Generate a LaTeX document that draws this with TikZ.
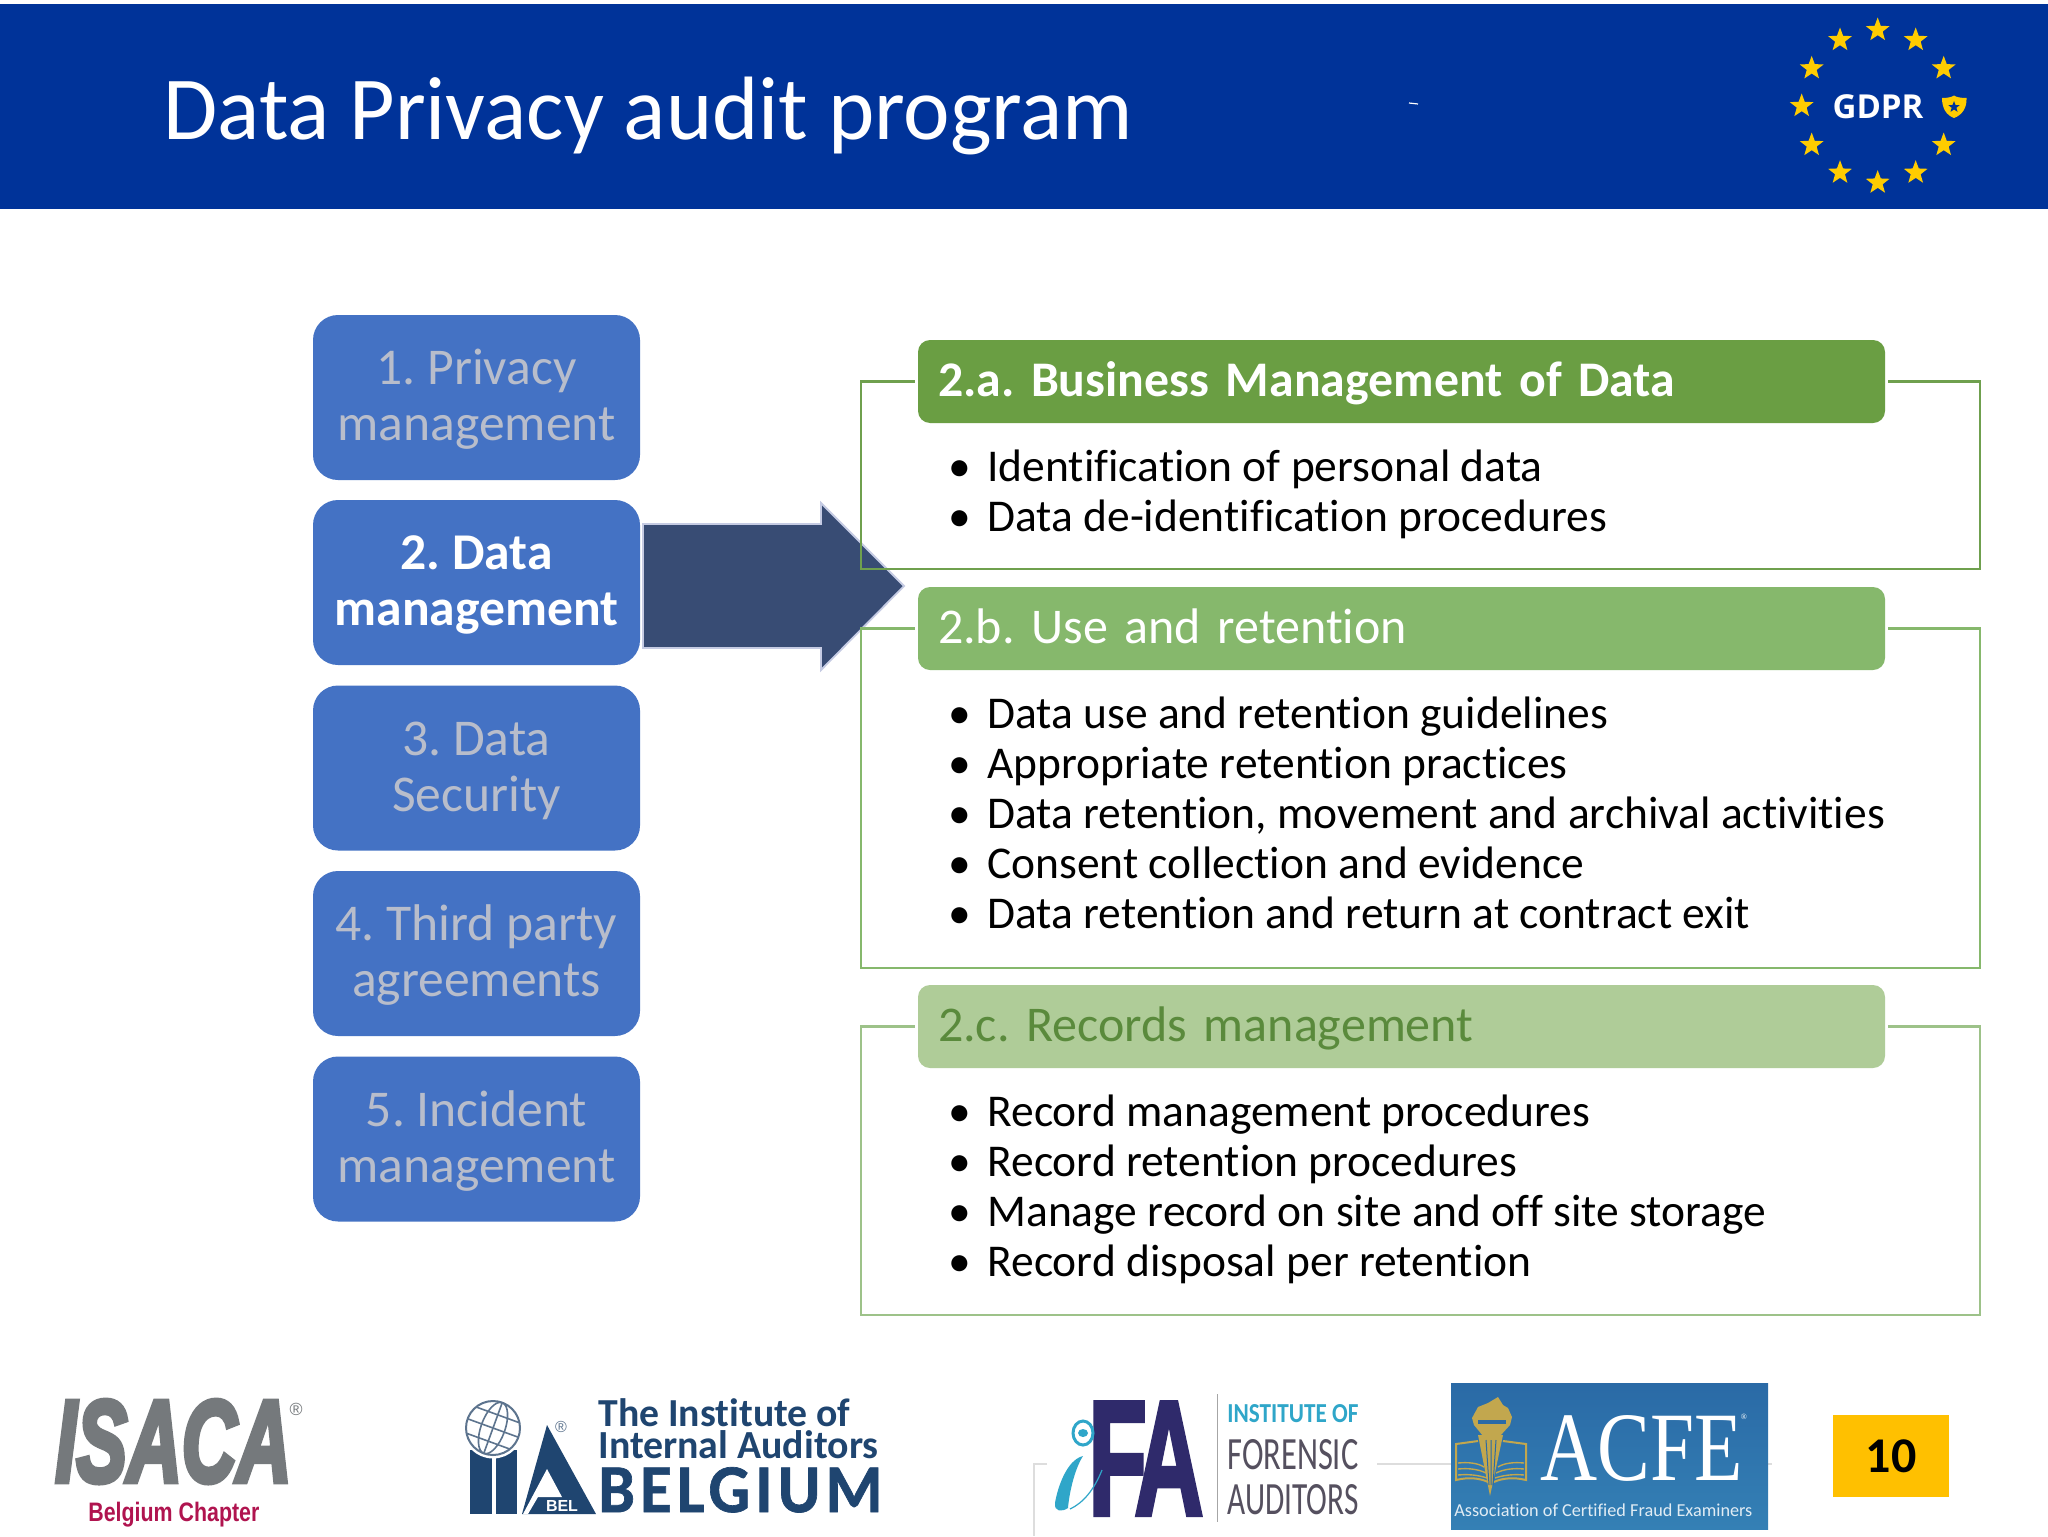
\documentclass[tikz,border=0pt]{standalone}
\usepackage{fontspec}
\usepackage{graphicx}
\usetikzlibrary{shapes.geometric,calc}
\setmainfont{Carlito}[Ligatures={TeX,NoCommon}]
\newfontfamily\arialf{Liberation Sans}
\newfontfamily\heavyf{Liberation Sans}[FakeBold=3]
\newfontfamily\isacaf{Liberation Sans}[FakeBold=5]
\newfontfamily\timesf{Liberation Serif}
\newfontfamily\dejaf{Open Sans}
\newfontfamily\iiaf{Carlito}[LetterSpace=8,FakeBold=1]
\definecolor{hdr}{HTML}{003399}
\definecolor{gold}{HTML}{FFCC00}
\definecolor{boxblue}{HTML}{4472C4}
\definecolor{dimtxt}{HTML}{B8BDCB}
\definecolor{arrowfill}{HTML}{384C74}
\definecolor{arrowedge}{HTML}{C5CBE3}
\definecolor{hA}{HTML}{6A9E43}
\definecolor{hB}{HTML}{86B86C}
\definecolor{hC}{HTML}{AFCC98}
\definecolor{hCt}{HTML}{5A8A3C}
\definecolor{frA}{HTML}{6FA04E}
\definecolor{frB}{HTML}{86B86C}
\definecolor{frC}{HTML}{9DC289}
\definecolor{iianavy}{HTML}{1F4570}
\definecolor{iiaglobe}{HTML}{5D748E}
\definecolor{isacagrey}{HTML}{75797C}
\definecolor{isacared}{HTML}{B0144F}
\definecolor{ifanavy}{HTML}{2F2A6B}
\definecolor{ifacyan}{HTML}{2FA6C9}
\definecolor{ifagrey}{HTML}{55505F}
\definecolor{acfeT}{HTML}{2A6AA6}
\definecolor{acfeB}{HTML}{3480B5}
\definecolor{acfegold}{HTML}{C2A74E}
\definecolor{pagenum}{HTML}{FFC000}
\definecolor{faint}{HTML}{DDDDDD}
\tikzset{
  stepbox/.style={rounded corners=12.5pt,fill=boxblue,minimum width=163.5pt,minimum height=82.5pt,inner sep=0pt,align=center,
     text height=43.3pt,text depth=0pt,font={\frenchspacing\fontsize{25.8}{28}\selectfont}},
  dimbox/.style={stepbox,text=dimtxt},
  activebox/.style={stepbox,text=white,font={\frenchspacing\fontsize{25.8}{28}\selectfont\bfseries}},
  headbox/.style={rounded corners=6pt,minimum width=483.5pt,minimum height=41.5pt,inner sep=0pt,text width=463.5pt,align=left,
     text height=14.5pt,text depth=0pt,font={\frenchspacing\fontsize{25}{28}\selectfont}},
  listnode/.style={anchor=north west,inner sep=0pt,align=left,font={\frenchspacing\fontsize{22.75}{25}\selectfont}},
  logotxt/.style={inner sep=0pt,anchor=south west},
  gstar/.style={star,star points=5,star point ratio=2.4,fill=gold,inner sep=0pt,minimum size=12.5pt},
}
\newcommand{\itm}[1]{\makebox[19.25pt][l]{\textbullet}#1}
\begin{document}
\begin{tikzpicture}[x=0.5pt,y=-0.5pt]
\useasboundingbox (0,0) rectangle (2048,1536);
\fill[white] (0,0) rectangle (2048,1536);
% header
\fill[hdr] (0,4) rectangle (2048,209);
\node[anchor=base west,inner sep=0pt,text=white,font={\fontsize{45}{50}\selectfont}] (title) at (163,140) {\scalebox{.979}[1]{Data Privacy audit program}};
\draw[white,line width=.6pt] (1409,103) -- (1418,104);
% GDPR badge
\foreach \i/\sx/\sy in {1/383/90,2/270/120,3/497/120,4/185/205,5/581/205,6/155/318,7/185/435,8/581/435,9/270/518,10/497/518,11/383/548}{
  \node[gstar] (star\i) at ({1750+\sx/3},{\sy/3}) {};
}
\node[inner sep=0pt,text=white,font={\dejaf\fontsize{16.5}{18}\selectfont\bfseries}] (gdpr) at (1878,107) {GDPR};
\fill[gold] (1942,98) .. controls (1948,98) and (1952,97) .. (1954,95.5) .. controls (1956,97) and (1960,98) .. (1966.5,98) .. controls (1967,108) and (1962,115) .. (1954,118) .. controls (1946,115) and (1942,108) .. (1942,98) -- cycle;
\node[star,star points=5,star point ratio=2.4,fill=hdr,inner sep=0pt,minimum size=6pt] (shieldstar) at (1954,107) {};
% left column
\node[dimbox] (b1) at (476.5,397.5) {1. Privacy\\management};
\node[activebox] (b2) at (476.5,582.5) {2. Data\\management};
\node[dimbox] (b3) at (476.5,768) {3. Data\\Security};
\node[dimbox] (b4) at (476.5,953.5) {4. Third party\\agreements};
\node[dimbox] (b5) at (476.5,1139) {5. Incident\\management};
% arrow
\draw[fill=arrowfill,draw=arrowedge,line width=.9pt,line join=miter] (643,524) -- (821,524) -- (821,503) -- (904,586) -- (821,670) -- (821,648) -- (643,648) -- cycle;
% headers
\node[headbox,fill=hA,text=white,font={\frenchspacing\fontsize{24.9}{28}\selectfont\bfseries}] (h2a) at (1401.5,381.5) {2.a. Business Management of Data};
\node[headbox,fill=hB,text=white] (h2b) at (1401.5,628.5) {2.b. Use and retention};
\node[headbox,fill=hC,text=hCt] (h2c) at (1401.5,1026.5) {2.c. Records management};
% frames
\draw[frA,line width=1.2pt] ($(h2a.west)+(-3,0)$) -| (861,569) -| (1980,381.5) -- ($(h2a.east)+(3,0)$);
\draw[frB,line width=1.2pt] ($(h2b.west)+(-3,0)$) -| (861,968) -| (1980,628.5) -- ($(h2b.east)+(3,0)$);
\draw[frC,line width=1.2pt] ($(h2c.west)+(-3,0)$) -| (861,1315) -| (1980,1026.5) -- ($(h2c.east)+(3,0)$);
% lists
\node[listnode] (la) at (948.5,449.5) {\itm{Identification of personal data}\\\itm{Data de-identification procedures}};
\node[listnode] (lb) at (948.5,696.5) {\itm{Data use and retention guidelines}\\\itm{Appropriate retention practices}\\\itm{Data retention, movement and archival activities}\\\itm{Consent collection and evidence}\\\itm{Data retention and return at contract exit}};
\node[listnode] (lc) at (948.5,1094.5) {\itm{Record management procedures}\\\itm{Record retention procedures}\\\itm{Manage record on site and off site storage}\\\itm{Record disposal per retention}};
% ISACA logo
\node[logotxt,text=isacagrey] (isaca) at (55,1483) {\resizebox{118pt}{40.5pt}{\isacaf\bfseries\itshape ISACA}};
\node[inner sep=0pt,text=isacagrey,font={\arialf\fontsize{8.8}{9}\selectfont}] (isacar) at (296,1409) {®};
\node[logotxt,text=isacared] (isacabe) at (88,1528) {\resizebox*{85.5pt}{12.5pt}{\arialf\bfseries Belgium Chapter}};
% IIA logo
\fill[iianavy] (470,1450) rectangle (492,1514);
\fill[iianavy] (496,1450) rectangle (517,1514);
\fill[iianavy] (547,1425) -- (596,1514) -- (522,1514) -- cycle;
\fill[white] (547,1469) -- (562,1497) -- (538,1497) -- (528,1514) -- (523,1514) -- cycle;
\node[inner sep=0pt,text=white,font={\arialf\fontsize{8}{9}\selectfont\bfseries}] (iiabel) at (562,1505.5) {BEL};
\draw[white,fill=white,line width=1.5pt] (493,1428) circle[radius=29];
\draw[iiaglobe,line width=1pt] (493,1428) circle[radius=27];
\begin{scope}[rotate around={-20:(493,1428)}]
\draw[iiaglobe,line width=.8pt] (493,1428) ellipse[x radius=12,y radius=27];
\draw[iiaglobe,line width=.8pt] (493,1401) -- (493,1455) (470,1414) -- (516,1414) (466,1428) -- (520,1428) (470,1442) -- (516,1442);
\end{scope}
\node[inner sep=0pt,text=iiaglobe,font={\arialf\fontsize{8}{9}\selectfont}] (iiar) at (561,1427) {®};
\node[logotxt,text=iianavy] (iia1) at (598,1427.5) {\resizebox{126pt}{!}{\bfseries The Institute of}};
\node[logotxt,text=iianavy] (iia2) at (598,1459.5) {\resizebox{140pt}{!}{\bfseries Internal Auditors}};
\node[logotxt,text=iianavy] (iia3) at (598,1513) {\resizebox{142pt}{22.5pt}{\iiaf\bfseries BELGIUM}};
% faint lines
\draw[faint,line width=.6pt] (1377,1464) -- (1451,1464);
\draw[faint,line width=.6pt] (1768,1464) -- (1772,1464);
\draw[faint,line width=.6pt] (1047,1464) -- (1034,1464) -- (1034,1536);
% iFA logo
\node[logotxt,text=ifanavy] (ifa) at (1088,1515) {\resizebox{57.5pt}{56pt}{\heavyf\bfseries F\kern-.13em A}};
\fill[ifacyan] (1083,1456) .. controls (1066,1460) and (1057,1490) .. (1055,1503) .. controls (1054,1512) and (1062,1512) .. (1068,1508) .. controls (1069,1495) and (1074,1470) .. (1083,1456) -- cycle;
\draw[ifacyan,line width=.6pt] (1070,1509) .. controls (1083,1503) and (1094,1490) .. (1102,1470);
\draw[ifacyan,fill=white,line width=1.5pt] (1083,1433) ellipse[x radius=10,y radius=12];
\fill[ifacyan] (1083,1433) ellipse[x radius=5,y radius=4];
\draw[gray!70,line width=.5pt] (1217,1394) -- (1217,1522);
\node[logotxt,text=ifacyan] (ifa1) at (1227,1423) {\resizebox{65.5pt}{9pt}{\bfseries INSTITUTE OF}};
\node[logotxt,text=ifagrey] (ifa2) at (1227,1470) {\resizebox{65.5pt}{15pt}{FORENSIC}};
\node[logotxt,text=ifagrey] (ifa3) at (1227,1515) {\resizebox{65.5pt}{15pt}{AUDITORS}};
% ACFE logo
\shade[top color=acfeT,bottom color=acfeB] (1451,1383) rectangle (1768,1529);
\draw[acfegold,line width=1pt] (1478,1441) -- (1456,1444) -- (1456,1480) .. controls (1468,1477) and (1480,1478) .. (1488,1482);
\draw[acfegold,line width=1pt] (1503,1441) -- (1526,1444) -- (1526,1480) .. controls (1514,1477) and (1502,1478) .. (1494,1482);
\draw[acfegold,line width=.7pt] (1458,1463) .. controls (1468,1462) and (1478,1463) .. (1484,1467) (1458,1469) .. controls (1468,1468) and (1478,1469) .. (1486,1473) (1458,1475) .. controls (1468,1474) and (1478,1475) .. (1487,1478);
\draw[acfegold,line width=.7pt] (1524,1463) .. controls (1514,1462) and (1504,1463) .. (1498,1467) (1524,1469) .. controls (1514,1468) and (1504,1469) .. (1496,1473) (1524,1475) .. controls (1514,1474) and (1504,1475) .. (1495,1478);
\fill[acfegold] (1490,1496) -- (1478,1435) -- (1503,1435) -- cycle;
\fill[acfegold] (1472,1418) -- (1478,1407) -- (1488,1403) -- (1498,1397) -- (1503,1405) -- (1508,1408) -- (1512,1417) -- (1510,1425) -- (1500,1436) -- (1483,1436) -- (1474,1425) -- cycle;
\fill[acfeT] (1478,1419.5) rectangle (1506,1423.5);
\draw[acfeT,line width=.5pt] (1486,1440) -- (1489,1485) (1491,1440) -- (1491,1485) (1496,1440) -- (1493,1485);
\node[logotxt,text=white] (acfe) at (1540,1482) {\resizebox{101pt}{32.5pt}{\timesf ACFE}};
\node[inner sep=0pt,text=white,font={\timesf\fontsize{4}{5}\selectfont}] (acfer) at (1744,1417) {®};
\node[logotxt,text=white!85!acfeB] (acfe2) at (1454,1517) {\resizebox{149pt}{!}{Association of Certified Fraud Examiners}};
% page number
\node[fill=pagenum,minimum width=58pt,minimum height=41pt,inner sep=0pt,font={\fontsize{25}{28}\selectfont\bfseries}] (pg) at (1891,1456) {10};
\end{tikzpicture}
\end{document}
